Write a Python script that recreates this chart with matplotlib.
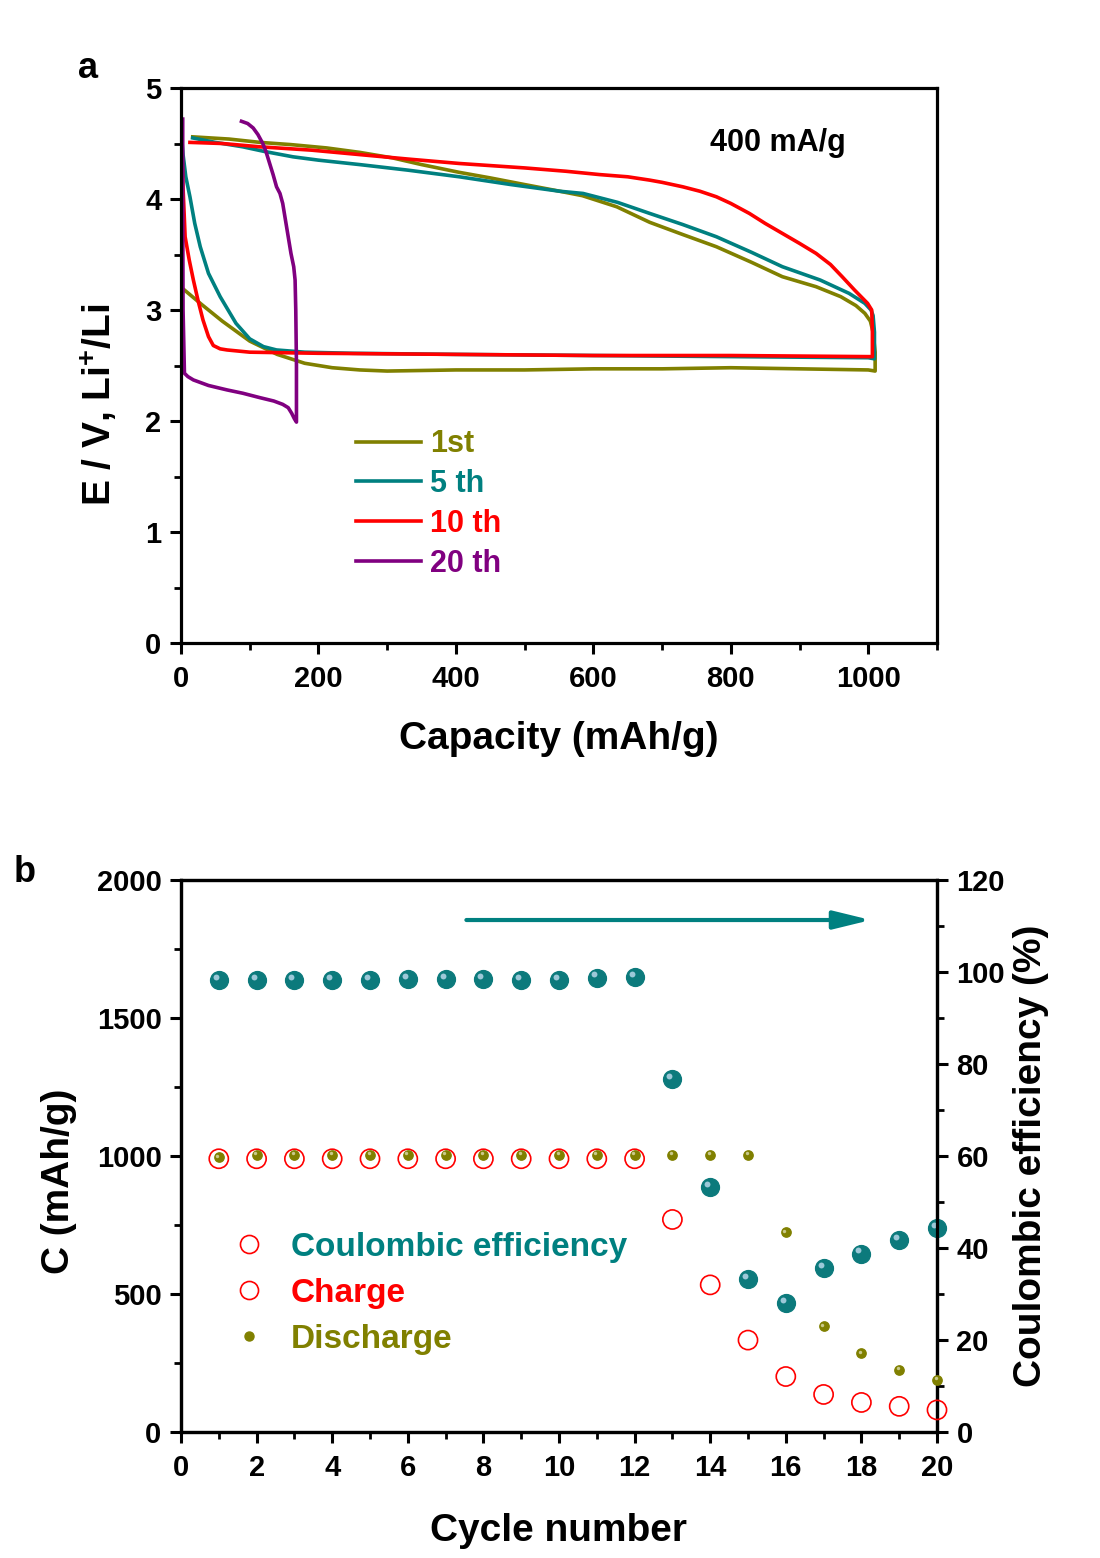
import matplotlib
matplotlib.use("Agg")
import matplotlib.pyplot as plt
from matplotlib.lines import Line2D
from matplotlib import transforms
from matplotlib.ticker import MultipleLocator

plt.rcParams['font.family'] = ['Liberation Sans', 'DejaVu Sans']
plt.rcParams['font.weight'] = 'bold'
plt.rcParams['mathtext.fontset'] = 'custom'
plt.rcParams['mathtext.rm'] = 'Liberation Sans:bold'
plt.rcParams['mathtext.bf'] = 'Liberation Sans:bold'
plt.rcParams['mathtext.default'] = 'bf'

OLIVE = '#808000'
TEAL = '#008080'
RED = '#ff0000'
PURPLE = '#800080'

# ---------------- Panel a data ----------------
cap_1st = [5, 30, 60, 100, 140, 180, 220, 260, 300, 400, 500, 600, 700, 800, 900, 1000, 1010,
           1010, 1007, 1003, 995, 982, 960, 924, 875, 830, 779, 730, 682, 634, 584, 551, 500,
           450, 405, 350, 308, 260, 212, 160, 115, 70, 17]
v_1st = [3.18, 3.05, 2.90, 2.72, 2.60, 2.52, 2.48, 2.46, 2.45, 2.46, 2.46, 2.47, 2.47, 2.48, 2.47, 2.46, 2.45,
         2.62, 2.80, 2.90, 2.97, 3.04, 3.12, 3.21, 3.30, 3.43, 3.57, 3.68, 3.79, 3.93, 4.03, 4.07, 4.13,
         4.19, 4.24, 4.31, 4.37, 4.42, 4.46, 4.49, 4.51, 4.54, 4.56]

cap_5th = [1, 3, 7, 13, 20, 28, 40, 57, 80, 100, 120, 139, 180, 250, 400, 600, 800, 1000, 1009,
           1009, 1007, 1004, 995, 972, 930, 875, 830, 779, 730, 682, 635, 585, 551, 480, 405, 330,
           260, 200, 163, 120, 90, 50, 17]
v_5th = [4.55, 4.40, 4.20, 4.02, 3.78, 3.57, 3.33, 3.12, 2.88, 2.74, 2.67, 2.64, 2.62, 2.61, 2.60, 2.59, 2.58, 2.57, 2.56,
         2.80, 2.95, 3.00, 3.06, 3.15, 3.27, 3.39, 3.52, 3.66, 3.77, 3.87, 3.97, 4.05, 4.07, 4.13, 4.20, 4.26,
         4.31, 4.35, 4.38, 4.43, 4.47, 4.51, 4.55]

cap_10th = [1, 3, 6, 12, 18, 25, 32, 40, 47, 57, 67, 100, 200, 400, 600, 800, 1000, 1006,
            1006, 1005, 999, 980, 962, 945, 924, 900, 875, 850, 827, 800, 779, 755, 730, 700, 682,
            650, 609, 560, 500, 405, 330, 260, 190, 115, 60, 13]
v_10th = [4.55, 4.10, 3.66, 3.45, 3.27, 3.08, 2.91, 2.76, 2.68, 2.65, 2.64, 2.62, 2.61, 2.60, 2.59, 2.59, 2.58, 2.58,
          2.80, 3.00, 3.06, 3.18, 3.30, 3.41, 3.51, 3.60, 3.69, 3.78, 3.87, 3.96, 4.02, 4.07, 4.11, 4.15, 4.17,
          4.20, 4.22, 4.25, 4.28, 4.32, 4.36, 4.40, 4.44, 4.47, 4.50, 4.51]

cap_20th = [2.5, 2.5, 3, 5, 10, 18, 40, 67, 90, 115, 135, 148, 156, 161, 165, 168,
            168, 167, 166, 164, 160, 156, 152, 148, 144, 139, 134, 129, 124, 119, 112, 105, 97, 88]
v_20th = [4.72, 4.0, 3.0, 2.43, 2.40, 2.37, 2.32, 2.28, 2.25, 2.21, 2.18, 2.15, 2.12, 2.07, 2.02, 1.99,
          2.50, 3.00, 3.27, 3.39, 3.51, 3.66, 3.81, 3.96, 4.05, 4.11, 4.22, 4.32, 4.42, 4.50, 4.58, 4.64, 4.68, 4.70]

cycle_labels = ['1st', '5 th', '10 th', '20 th']

# ---------------- Panel b data ----------------
cycles = list(range(1, 21))
charge = [990, 990, 990, 990, 990, 990, 990, 990, 990, 990, 990, 990,
          770, 533, 333, 201, 136, 107, 93, 80]
discharge = [995, 1005, 1005, 1005, 1005, 1005, 1005, 1005, 1005, 1005, 1005, 1005,
             1005, 1005, 1005, 725, 384, 285, 226, 190]
coulombic = [98.2, 98.3, 98.3, 98.3, 98.3, 98.5, 98.5, 98.4, 98.2, 98.2, 98.8, 99.0,
             76.7, 53.2, 33.2, 28.0, 35.7, 38.8, 41.7, 44.3]

fig = plt.figure(figsize=(11, 15.58), dpi=100)

TICK = 21
LAB = 28

def style_axis(ax):
    for s in ax.spines.values():
        s.set_linewidth(2.3)
    ax.tick_params(which='major', direction='out', length=8, width=2.2, labelsize=TICK, pad=8)
    ax.tick_params(which='minor', direction='out', length=5, width=2.0)

# ---------------- Panel a ----------------
axa = fig.add_axes([181/1100, 1-643/1558, 756/1100, 555/1558])
axa.plot(cap_1st, v_1st, color=OLIVE, lw=2.6, label=cycle_labels[0])
axa.plot(cap_5th, v_5th, color=TEAL, lw=2.6, label=cycle_labels[1])
axa.plot(cap_10th, v_10th, color=RED, lw=2.6, label=cycle_labels[2])
axa.plot(cap_20th, v_20th, color=PURPLE, lw=2.6, label=cycle_labels[3])
axa.set_xlim(0, 1100)
axa.set_ylim(0, 5)
axa.xaxis.set_major_locator(MultipleLocator(200))
axa.xaxis.set_minor_locator(MultipleLocator(100))
axa.yaxis.set_major_locator(MultipleLocator(1))
axa.yaxis.set_minor_locator(MultipleLocator(0.5))
style_axis(axa)
axa.tick_params(top=False, right=False, which='both')
axa.tick_params(axis='y', pad=6)
axa.set_xticks([0, 200, 400, 600, 800, 1000])
axa.set_xlabel('Capacity (mAh/g)', fontsize=LAB, fontweight='bold', labelpad=20)
axa.set_ylabel(r'E / V, Li$^{+}$/Li', fontsize=LAB, fontweight='bold')
axa.yaxis.set_label_coords(-0.082, 0.43)
axa.text(0.79, 0.90, '400 mA/g', transform=axa.transAxes, fontsize=22,
         fontweight='bold', ha='center', va='center')
leg = axa.legend(loc='upper left', bbox_to_anchor=(0.232, 0.385), frameon=False,
                 fontsize=22, handlelength=2.1, handletextpad=0.3, labelspacing=0.32,
                 borderpad=0, borderaxespad=0, labelcolor='linecolor')
for t in leg.get_texts():
    t.set_fontweight('bold')
fig.text(88/1100, 1-68/1558, 'a', fontsize=26, fontweight='bold', ha='center', va='center')

# ---------------- Panel b ----------------
axb = fig.add_axes([181/1100, 1-1432/1558, 756/1100, 552/1558])
axr = axb.twinx()
axb.set_zorder(axr.get_zorder() + 1)
axb.patch.set_visible(False)

axb.scatter(cycles, charge, s=190, facecolors='none', edgecolors=RED, linewidths=1.2,
            zorder=3, clip_on=False)
axb.scatter(cycles, discharge, s=45, color=OLIVE, zorder=4, clip_on=False)
hl_b = transforms.offset_copy(axb.transData, fig=fig, x=-1.0, y=1.0, units='points')
axb.scatter(cycles, discharge, s=6, color='#c9c98a', transform=hl_b, zorder=5,
            clip_on=False, linewidths=0)

axr.scatter(cycles, coulombic, s=165, color='#0c7a7c', zorder=3, clip_on=False)
hl_r = transforms.offset_copy(axr.transData, fig=fig, x=-2.2, y=2.2, units='points')
axr.scatter(cycles, coulombic, s=18, color='#9cc8d8', transform=hl_r, zorder=4,
            clip_on=False, linewidths=0)

axb.set_xlim(0, 20)
axb.set_ylim(0, 2000)
axr.set_ylim(0, 120)
axb.xaxis.set_major_locator(MultipleLocator(2))
axb.xaxis.set_minor_locator(MultipleLocator(1))
axb.yaxis.set_major_locator(MultipleLocator(500))
axb.yaxis.set_minor_locator(MultipleLocator(250))
axr.yaxis.set_major_locator(MultipleLocator(20))
axr.yaxis.set_minor_locator(MultipleLocator(10))
style_axis(axb)
style_axis(axr)
axb.tick_params(top=False, right=False, which='both')
axb.tick_params(axis='y', pad=6)
axr.tick_params(which='both', right=True, left=False, top=False)
axr.tick_params(axis='y', pad=6)

axb.set_xlabel('Cycle number', fontsize=LAB, fontweight='bold', labelpad=22)
axb.set_ylabel('C (mAh/g)', fontsize=LAB, fontweight='bold')
axb.yaxis.set_label_coords(-0.138, 0.455)
axr.set_ylabel('Coulombic efficiency (%)', fontsize=LAB, fontweight='bold',
               rotation=90, labelpad=6)

axb.annotate('', xy=(18.25, 1855), xytext=(7.55, 1855),
             arrowprops=dict(arrowstyle='-|>,head_length=0.9,head_width=0.22',
                             color=TEAL, lw=3, mutation_scale=25, shrinkA=0, shrinkB=0))

handles = [
    Line2D([], [], ls='none', marker='o', markersize=13, markerfacecolor='none',
           markeredgecolor=RED, markeredgewidth=1.2),
    Line2D([], [], ls='none', marker='o', markersize=13, markerfacecolor='none',
           markeredgecolor=RED, markeredgewidth=1.2),
    Line2D([], [], ls='none', marker='o', markersize=6.5, color=OLIVE),
]
legb = axb.legend(handles, ['Coulombic efficiency', 'Charge', 'Discharge'],
                  loc='upper left', bbox_to_anchor=(0.068, 0.363), frameon=False,
                  fontsize=24, handlelength=1.0, handletextpad=0.75, labelspacing=0.45,
                  borderpad=0, borderaxespad=0,
                  labelcolor=[TEAL, RED, OLIVE])
for t in legb.get_texts():
    t.set_fontweight('bold')
fig.text(25/1100, 1-872/1558, 'b', fontsize=26, fontweight='bold', ha='center', va='center')

fig.savefig('out.png', dpi=100, facecolor='white')
